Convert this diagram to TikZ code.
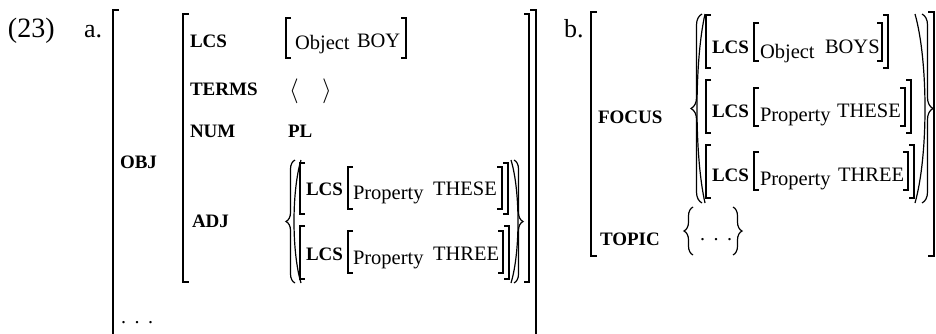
\documentclass[tikz,border=0pt]{standalone}
\usepackage{fontspec}
\setmainfont{Liberation Serif}
\usetikzlibrary{decorations.pathreplacing}
\tikzset{
  txt/.style={inner sep=0pt, outer sep=0pt, anchor=base west},
  big/.style={txt, font=\fontsize{26}{30}\selectfont},
  feat/.style={txt, font=\fontsize{19}{23}\selectfont\bfseries},
  val/.style={txt, font=\fontsize{20.5}{24}\selectfont},
  sortlab/.style={txt, font=\fontsize{20.5}{24}\selectfont},
  dotsty/.style={txt, font=\fontsize{20}{24}\selectfont},
  angsty/.style={inner sep=0pt, outer sep=0pt, font=\fontsize{23}{26}\selectfont},
  brk/.style={line width=1.1pt},
  obrk/.style={line width=1.6pt},
  brc/.style={decorate, decoration={brace, amplitude=#1}, line width=1.2pt},
  par/.style={line width=1.2pt},
}
\newcommand\avmLB[4][5]{\draw[brk] ({#2+#1},#3) -- (#2,#3) -- (#2,#4) -- ({#2+#1},#4);}
\newcommand\avmRB[4][5]{\draw[brk] ({#2-#1},#3) -- (#2,#3) -- (#2,#4) -- ({#2-#1},#4);}
\newcommand\avmLP[4]{\draw[par] (#1,#2) .. controls ({#1-1.333*#4},{#2+0.25*(#3-#2)}) and ({#1-1.333*#4},{#3-0.25*(#3-#2)}) .. (#1,#3);}
\newcommand\avmRP[4]{\draw[par] (#1,#2) .. controls ({#1+1.333*#4},{#2+0.25*(#3-#2)}) and ({#1+1.333*#4},{#3-0.25*(#3-#2)}) .. (#1,#3);}
\newcommand\avmLC[4]{\draw[brc=#4] (#1,#3) -- (#1,#2);}
\newcommand\avmRC[4]{\draw[brc=#4] (#1,#2) -- (#1,#3);}
\newcommand\avmDots{.\kern8.5pt.\kern8.5pt.}
\begin{document}
\begin{tikzpicture}[x=1pt,y=-1pt]
\useasboundingbox (0,0) rectangle (936,333);
% labels
\node[big, font=\fontsize{28}{32}\selectfont] (n23) at (8,37) {(23)};
\node[big] (na) at (84,37) {a.};
\node[big] (nb) at (564,37) {b.};
% ---------------- a ----------------
\draw[obrk] (119,10) -- (113,10) -- (113,334);
\draw[obrk] (530,10) -- (536,10) -- (536,334);
\node[feat] (aobj) at (120,168) {OBJ};
\node[dotsty] (adots) at (121,323) {\avmDots};
\draw[obrk] (189,14) -- (183,14) -- (183,282) -- (189,282);
\draw[obrk] (524,14) -- (529,14) -- (529,282) -- (524,282);
\node[feat] (alcs) at (190,47) {LCS};
\node[feat] (aterms) at (190,95) {TERMS};
\node[feat] (anum) at (190,137) {NUM};
\node[feat] (aadj) at (192,227) {ADJ};
% LCS value
\avmLB{286}{18}{58}
\node[sortlab] (aobject) at (295,49) {Object};
\node[val] (aboy) at (357,47) {BOY};
\avmRB{406}{18}{58}
% TERMS value
\node[angsty] (alang) at (294,91) {$\langle$};
\node[angsty] (arang) at (327,91) {$\rangle$};
% NUM value
\node[feat] (apl) at (288,137) {PL};
% ADJ value
\avmLC{295}{160}{283}{9pt}
\avmLP{301}{160}{283}{7}
\avmLB{300}{163}{214}
\node[feat] (ar1lcs) at (306,195) {LCS};
\avmLB{348}{167}{209}
\node[sortlab] (ar1prop) at (353,199) {Property};
\node[val] (ar1these) at (433,195) {THESE};
\avmRB{502}{167}{209}
\avmRB{508}{163}{214}
\avmLB{300}{226}{279}
\node[feat] (ar2lcs) at (306,260) {LCS};
\avmLB{348}{231}{273}
\node[sortlab] (ar2prop) at (353,264) {Property};
\node[val] (ar2three) at (433,260) {THREE};
\avmRB{503}{231}{273}
\avmRB{509}{226}{279}
\avmRP{511}{160}{283}{7}
\avmRC{514}{160}{283}{9pt}
% ---------------- b ----------------
\draw[obrk] (597,12) -- (591,12) -- (591,256) -- (597,256);
\draw[obrk] (928,12) -- (934,12) -- (934,256) -- (928,256);
\node[feat] (bfocus) at (598,123) {FOCUS};
\node[feat] (btopic) at (600,245) {TOPIC};
\avmLC{702}{14}{203}{11pt}
\avmLP{705}{14}{203}{8}
% row 1
\avmLB{706}{15}{68}
\node[feat] (br1lcs) at (712,53) {LCS};
\avmLB{754}{23}{61}
\node[sortlab] (br1obj) at (760,58) {Object};
\node[val] (br1boys) at (825,53) {BOYS};
\avmRB{882}{23}{61}
\avmRB{888}{15}{68}
% row 2
\avmLB{706}{80}{133}
\node[feat] (br2lcs) at (712,117) {LCS};
\avmLB{754}{88}{126}
\node[sortlab] (br2prop) at (760,121) {Property};
\node[val] (br2these) at (837,117) {THESE};
\avmRB{905}{88}{126}
\avmRB{911}{80}{133}
% row 3
\avmLB{706}{145}{198}
\node[feat] (br3lcs) at (712,181) {LCS};
\avmLB{754}{152}{190}
\node[sortlab] (br3prop) at (760,185) {Property};
\node[val] (br3three) at (838,181) {THREE};
\avmRB{908}{152}{190}
\avmRB{914}{145}{198}
\avmRP{915}{14}{203}{10}
\avmRC{922}{14}{203}{11pt}
% TOPIC value
\avmLC{693}{207}{255}{9pt}
\node[dotsty] (bdots) at (700,240) {\avmDots};
\avmRC{733}{207}{255}{9pt}
\end{tikzpicture}
\end{document}
